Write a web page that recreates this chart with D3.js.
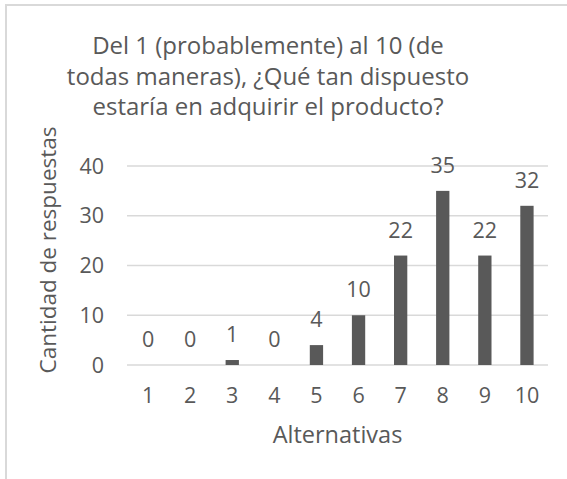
<!DOCTYPE html>
<html>
<head>
<meta charset="utf-8">
<script src="https://cdn.jsdelivr.net/npm/d3@7"></script>
<style>
  html, body { margin: 0; padding: 0; background: #fff; }
  svg { display: block; font-family: "Open Sans", sans-serif; }
</style>
</head>
<body>
<svg id="chart" width="567" height="479"></svg>
<script>
// Survey answers: willingness to buy, scale 1..10
const categories = ["1", "2", "3", "4", "5", "6", "7", "8", "9", "10"];
const responses = [0, 0, 1, 0, 4, 10, 22, 35, 22, 32];
const yTicks = [0, 10, 20, 30, 40];
const titleLines = [
  "Del 1 (probablemente) al 10 (de",
  "todas maneras), ¿Qué tan dispuesto",
  "estaría en adquirir el producto?"
];
const xTitle = "Alternativas";
const yTitle = "Cantidad de respuestas";

const svg = d3.select("#chart");
const ink = "#595959";
const grid = "#d9d9d9";
const tickSize = 21.5;

// chart frame (extends past the right and bottom edges)
svg.append("rect")
  .attr("x", 6).attr("y", 5)
  .attr("width", 600).attr("height", 520)
  .attr("fill", "#fff")
  .attr("stroke", grid).attr("stroke-width", 2);

const plot = { left: 127, right: 548, top: 166, bottom: 365 };

const x = d3.scaleBand()
  .domain(categories)
  .range([plot.left, plot.right])
  .paddingInner(0.684)
  .paddingOuter(0.342);

const y = d3.scaleLinear()
  .domain([0, 40])
  .range([plot.bottom, plot.top]);

// horizontal gridlines
svg.append("g")
  .selectAll("line")
  .data(yTicks)
  .join("line")
  .attr("x1", plot.left).attr("x2", plot.right)
  .attr("y1", d => y(d)).attr("y2", d => y(d))
  .attr("stroke", grid).attr("stroke-width", 1.5);

// y tick labels
svg.append("g")
  .selectAll("text")
  .data(yTicks)
  .join("text")
  .attr("x", 104)
  .attr("y", d => y(d))
  .attr("dy", "0.36em")
  .attr("text-anchor", "end")
  .attr("font-size", tickSize)
  .attr("fill", ink)
  .text(d => d);

// bars
svg.append("g")
  .selectAll("rect")
  .data(responses)
  .join("rect")
  .attr("x", (d, i) => x(categories[i]))
  .attr("width", x.bandwidth())
  .attr("y", d => y(d))
  .attr("height", d => y(0) - y(d))
  .attr("fill", ink);

// value labels
svg.append("g")
  .selectAll("text")
  .data(responses)
  .join("text")
  .attr("x", (d, i) => x(categories[i]) + x.bandwidth() / 2)
  .attr("y", d => y(d) - 18)
  .attr("text-anchor", "middle")
  .attr("font-size", tickSize)
  .attr("fill", ink)
  .text(d => d);

// x tick labels
svg.append("g")
  .selectAll("text")
  .data(categories)
  .join("text")
  .attr("x", d => x(d) + x.bandwidth() / 2)
  .attr("y", 403)
  .attr("text-anchor", "middle")
  .attr("font-size", tickSize)
  .attr("fill", ink)
  .text(d => d);

// title
svg.append("g")
  .selectAll("text")
  .data(titleLines)
  .join("text")
  .attr("x", 268)
  .attr("y", (d, i) => 54 + i * 30.5)
  .attr("text-anchor", "middle")
  .attr("font-size", 24)
  .attr("fill", ink)
  .text(d => d);

// axis titles
svg.append("text")
  .attr("x", (plot.left + plot.right) / 2)
  .attr("y", 443)
  .attr("text-anchor", "middle")
  .attr("font-size", 23.5)
  .attr("fill", ink)
  .text(xTitle);

svg.append("text")
  .attr("transform", "translate(56,250) rotate(-90)")
  .attr("text-anchor", "middle")
  .attr("font-size", 22.5)
  .attr("fill", ink)
  .text(yTitle);
</script>
</body>
</html>
